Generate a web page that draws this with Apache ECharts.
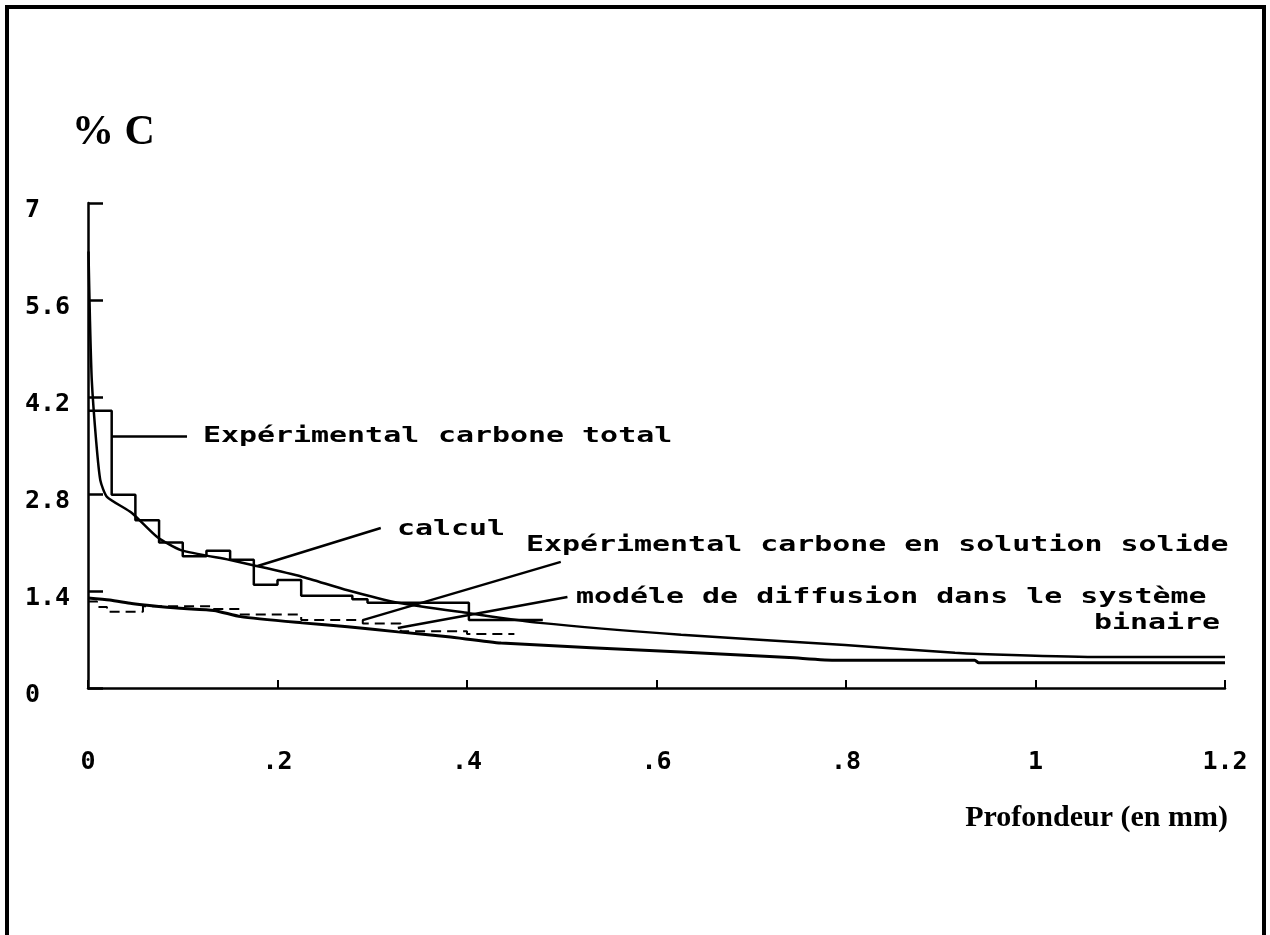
<!DOCTYPE html>
<html>
<head>
<meta charset="utf-8">
<script src="https://cdn.jsdelivr.net/npm/echarts@6/dist/echarts.min.js"></script>
<style>
html,body{margin:0;padding:0;background:#fff;}
#chart{width:1270px;height:935px;}
</style>
</head>
<body>
<div id="chart"></div>
<script>
// ---------- DATA ----------
const xTicks = [0, 0.2, 0.4, 0.6, 0.8, 1, 1.2];
const yTicks = [0, 1.4, 2.8, 4.2, 5.6, 7];

// Expérimental carbone total (histogram, left edges)
const totalX = [0, 0.025, 0.05, 0.075, 0.1, 0.125, 0.15, 0.175, 0.2, 0.225, 0.279, 0.295, 0.402, 0.48];
const totalY = [4.0, 2.79, 2.42, 2.10, 1.90, 1.98, 1.85, 1.49, 1.56, 1.33, 1.28, 1.23, 0.98, 0.98];

// calcul (smooth curve)
const calcX = [0.0005, 0.002, 0.004, 0.0087, 0.013, 0.02, 0.046, 0.073, 0.098, 0.149, 0.172, 0.225, 0.274, 0.327, 0.402, 0.477, 0.626, 0.799, 0.915, 0.975, 1.07, 1.2];
const calcY = [6.3, 5.35, 4.44, 3.55, 3.0, 2.76, 2.53, 2.18, 1.99, 1.85, 1.78, 1.61, 1.41, 1.23, 1.08, 0.94, 0.77, 0.62, 0.51, 0.476, 0.447, 0.447];

// Expérimental carbone en solution solide (histogram, dashed)
const solX = [0, 0.0095, 0.02, 0.058, 0.133, 0.16, 0.225, 0.29, 0.33, 0.4, 0.45];
const solY = [1.25, 1.17, 1.10, 1.18, 1.14, 1.06, 0.98, 0.93, 0.82, 0.78, 0.78];

// modèle de diffusion dans le système binaire
const modX = [0, 0.023, 0.046, 0.065, 0.097, 0.133, 0.161, 0.226, 0.274, 0.327, 0.380, 0.436, 0.626, 0.74, 0.79, 0.936, 0.94, 1.2];
const modY = [1.30, 1.27, 1.22, 1.19, 1.15, 1.12, 1.03, 0.94, 0.885, 0.81, 0.74, 0.65, 0.52, 0.44, 0.40, 0.40, 0.365, 0.365];

// leader lines (data coords)
const leadTotal = [[0.0243, 3.64], [0.1045, 3.64]];
const leadCalc = [[0.179, 1.76], [0.309, 2.31]];
const leadSol = [[0.290, 0.98], [0.499, 1.82]];
const leadMod = [[0.327, 0.866], [0.506, 1.313]];

// ---------- CHART ----------
const zip = (xs, ys) => xs.map((x, i) => [x, ys[i]]);
const chart = echarts.init(document.getElementById('chart'));
const monoBold = 'bold 22px "DejaVu Sans Mono"';
const lead = (pts) => ({
  silent: true, symbol: ['none', 'none'],
  lineStyle: {color: '#000', width: 2.5, type: 'solid'},
  label: {show: false},
  data: [[{coord: pts[0]}, {coord: pts[1]}]]
});
const annot = (text, x, y, align) => ({
  type: 'text', x: x, y: y, scaleX: 1.36,
  style: {text: text, font: monoBold, fill: '#000', textVerticalAlign: 'middle', textAlign: align || 'left'}
});

chart.setOption({
  animation: false,
  backgroundColor: '#fff',
  grid: {left: 88, right: 45, top: 203, bottom: 247, containLabel: false},
  xAxis: {
    type: 'value', min: 0, max: 1.2, interval: 0.2,
    axisLine: {show: true, lineStyle: {color: '#000', width: 2.5}},
    axisTick: {show: true, inside: true, length: 8, lineStyle: {color: '#000', width: 2}},
    splitLine: {show: false},
    axisLabel: {
      margin: 62, color: '#000', fontFamily: 'DejaVu Sans Mono', fontWeight: 'bold', fontSize: 25,
      formatter: v => { const s = (Math.round(v * 10) / 10).toString(); return s.replace(/^0\./, '.'); }
    }
  },
  yAxis: {
    type: 'value', min: 0, max: 7, interval: 1.4,
    axisLine: {show: true, lineStyle: {color: '#000', width: 2.5}},
    axisTick: {show: true, inside: true, length: 15, lineStyle: {color: '#000', width: 2.5}},
    splitLine: {show: false},
    axisLabel: {
      margin: 63, align: 'left', verticalAlign: 'top', lineHeight: 14, color: '#000',
      fontFamily: 'DejaVu Sans Mono', fontWeight: 'bold', fontSize: 25,
      formatter: v => (Math.round(v * 10) / 10).toString()
    }
  },
  series: [
    {name: 'Expérimental carbone total', type: 'line', step: 'end', showSymbol: false,
     data: zip(totalX, totalY), lineStyle: {color: '#000', width: 2.5},
     markLine: lead(leadTotal)},
    {name: 'calcul', type: 'line', smooth: 0.2, showSymbol: false,
     data: zip(calcX, calcY), lineStyle: {color: '#000', width: 2.5},
     markLine: lead(leadCalc)},
    {name: 'Expérimental carbone en solution solide', type: 'line', step: 'end', showSymbol: false,
     data: zip(solX, solY), lineStyle: {color: '#000', width: 2, type: [10, 6]},
     markLine: lead(leadSol)},
    {name: 'modèle de diffusion dans le système binaire', type: 'line', smooth: 0.2, showSymbol: false,
     data: zip(modX, modY), lineStyle: {color: '#000', width: 3},
     markLine: lead(leadMod)}
  ],
  graphic: [
    {type: 'rect', shape: {x: 7, y: 7, width: 1257, height: 940}, style: {fill: 'none', stroke: '#000', lineWidth: 4}, silent: true},
    {type: 'text', x: 72, y: 133, style: {text: '% C', font: 'bold 42px "Liberation Serif"', fill: '#000', textVerticalAlign: 'middle'}},
    {type: 'text', x: 1228, y: 818, style: {text: 'Profondeur (en mm)', font: 'bold 30px "Liberation Serif"', fill: '#000', textVerticalAlign: 'middle', textAlign: 'right'}},
    annot('Expérimental', 203, 436),
    annot('carbone total', 438, 436),
    annot('calcul', 397, 529),
    annot('Expérimental carbone en solution solide', 526, 545),
    annot('modéle de diffusion dans le système', 576, 597),
    annot('binaire', 1094, 623)
  ]
});
</script>
</body>
</html>
